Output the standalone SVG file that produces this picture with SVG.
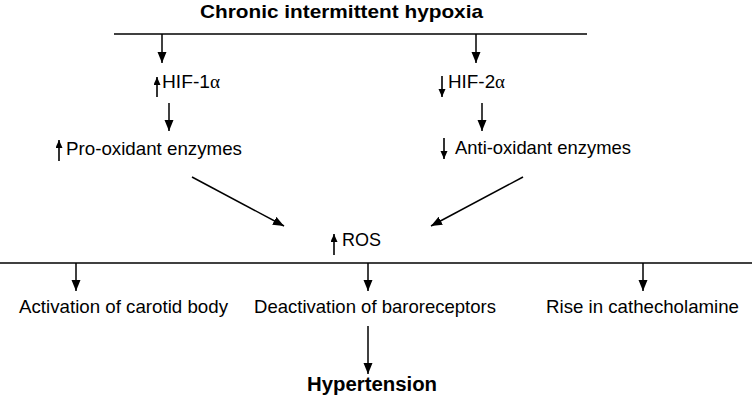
<svg xmlns="http://www.w3.org/2000/svg" width="752" height="401" viewBox="0 0 752 401">
<style>
  .t { font-family: "Liberation Sans", Arial, sans-serif; font-size: 18.5px; fill: #000; }
  .b { font-family: "Liberation Sans", Arial, sans-serif; font-weight: bold; fill: #000; }
  .g { font-family: "Liberation Serif", "Times New Roman", serif; }
  .ln { stroke: #000; stroke-width: 1.5; fill: none; }
  .a { stroke: #000; stroke-width: 1.5; fill: none; marker-end: url(#ah); }
  .s { stroke: #000; stroke-width: 1.6; fill: none; marker-end: url(#sh); }
</style>
<defs>
  <marker id="ah" markerUnits="userSpaceOnUse" markerWidth="12" markerHeight="10" refX="11" refY="4.5" orient="auto">
    <path d="M0,0 L11,4.5 L0,9 z" fill="#000"/>
  </marker>
  <marker id="sh" markerUnits="userSpaceOnUse" markerWidth="9" markerHeight="8" refX="8" refY="3.5" orient="auto">
    <path d="M0,0 L8,3.5 L0,7 z" fill="#000"/>
  </marker>
</defs>
<rect width="752" height="401" fill="#fff"/>

<g id="title">
  <text class="b" x="200" y="18" font-size="19" textLength="283" lengthAdjust="spacingAndGlyphs">Chronic intermittent hypoxia</text>
</g>
<g id="hif1">
  <line class="s" x1="157" y1="97" x2="157" y2="77"/>
  <text class="t" x="162" y="88" textLength="58" lengthAdjust="spacingAndGlyphs">HIF-1<tspan class="g">α</tspan></text>
</g>
<g id="hif2">
  <line class="s" x1="442" y1="76" x2="442" y2="97"/>
  <text class="t" x="448" y="88" textLength="57" lengthAdjust="spacingAndGlyphs">HIF-2<tspan class="g">α</tspan></text>
</g>
<g id="prooxidant">
  <line class="s" x1="59" y1="161" x2="59" y2="140"/>
  <text class="t" x="66" y="155" textLength="176" lengthAdjust="spacingAndGlyphs">Pro-oxidant enzymes</text>
</g>
<g id="antioxidant">
  <line class="s" x1="444" y1="138" x2="444" y2="159"/>
  <text class="t" x="455" y="154" textLength="176" lengthAdjust="spacingAndGlyphs">Anti-oxidant enzymes</text>
</g>
<g id="ros">
  <line class="s" x1="334" y1="255" x2="334" y2="234"/>
  <text class="t" x="342" y="246" textLength="39" lengthAdjust="spacingAndGlyphs">ROS</text>
</g>
<g id="carotid">
  <text class="t" x="19" y="313" textLength="209" lengthAdjust="spacingAndGlyphs">Activation of carotid body</text>
</g>
<g id="baroreceptors">
  <text class="t" x="254" y="313" textLength="242" lengthAdjust="spacingAndGlyphs">Deactivation of baroreceptors</text>
</g>
<g id="catecholamine">
  <text class="t" x="546" y="313" textLength="193" lengthAdjust="spacingAndGlyphs">Rise in cathecholamine</text>
</g>
<g id="hypertension">
  <text class="b" x="307" y="391" font-size="20" textLength="130" lengthAdjust="spacingAndGlyphs">Hypertension</text>
</g>

<g id="connectors">
  <line class="ln" x1="114" y1="34" x2="587" y2="34"/>
  <line class="a" x1="162" y1="34" x2="162" y2="63"/>
  <line class="a" x1="476" y1="34" x2="476" y2="63"/>
  <line class="a" x1="169" y1="103" x2="169" y2="131"/>
  <line class="a" x1="482" y1="103" x2="482" y2="131"/>
  <line class="a" x1="192" y1="177" x2="284" y2="226"/>
  <line class="a" x1="523" y1="177" x2="431" y2="226"/>
  <line class="ln" x1="0" y1="263" x2="752" y2="263"/>
  <line class="a" x1="76" y1="263" x2="76" y2="291"/>
  <line class="a" x1="368" y1="263" x2="368" y2="291"/>
  <line class="a" x1="643" y1="263" x2="643" y2="291"/>
  <line class="a" x1="368" y1="326" x2="368" y2="374"/>
</g>
</svg>
